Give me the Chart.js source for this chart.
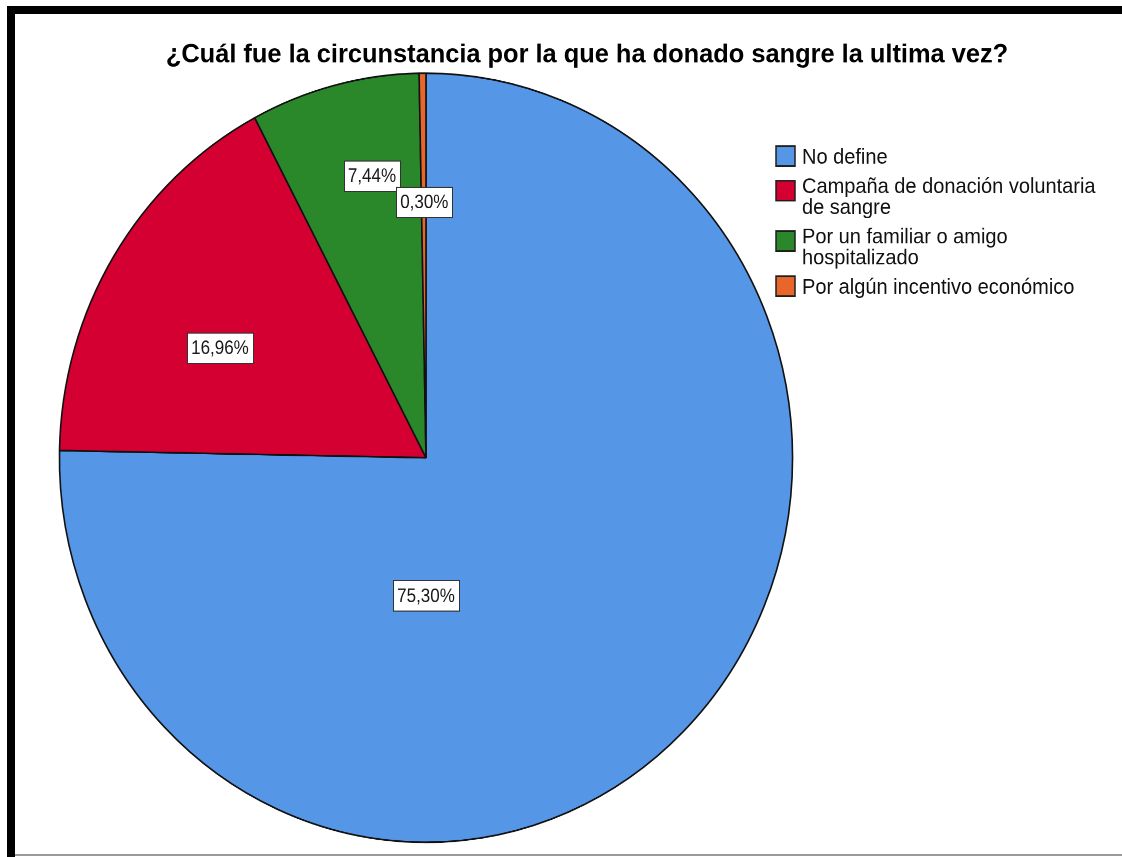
<!DOCTYPE html>
<html lang="es">
<head>
<meta charset="utf-8">
<title>Circunstancia de la última donación de sangre</title>
<script src="https://cdn.jsdelivr.net/npm/chart.js@4/dist/chart.umd.min.js"></script>
<style>
  html, body { margin: 0; padding: 0; background: #fff; }
  body { width: 1122px; height: 857px; position: relative; overflow: hidden; }
  /* the chart is laid out at 1122x817 and stretched a little vertically */
  #stage { position: absolute; left: 0; top: 0; width: 1122px; height: 817px;
           transform-origin: 0 0; transform: scaleY(1.049); }
  .rule { position: absolute; }
  #ruleTop { left: 7px; top: 6px; width: 1115px; height: 8px; background: #000; }
  #ruleLeft { left: 7px; top: 6px; width: 8px; height: 851px; background: #000; }
  #ruleBottom { left: 15px; top: 854px; width: 1107px; height: 2px; background: #9a9a9a; }
</style>
</head>
<body>
<div id="stage"><canvas id="pie" width="1122" height="817"></canvas></div>
<div class="rule" id="ruleTop"></div>
<div class="rule" id="ruleLeft"></div>
<div class="rule" id="ruleBottom"></div>
<script>
// ---- data ----
const chartTitle = '¿Cuál fue la circunstancia por la que ha donado sangre la ultima vez?';
const categories = [
  'No define',
  'Campaña de donación voluntaria de sangre',
  'Por un familiar o amigo hospitalizado',
  'Por algún incentivo económico'
];
const percentages = [75.30, 16.96, 7.44, 0.30];

// ---- styling ----
const sliceColors = ['#5596E6', '#D40032', '#2A882A', '#E8662C'];
const FONT = '"Liberation Sans", Arial, Helvetica, sans-serif';
// where each percentage tag sits in its slice: [share of the slice sweep, share of the radius]
const tagPlacement = [[0.664, 0.359], [0.425, 0.631], [0.616, 0.748], [0.63, 0.666]];

function formatPct(v) {
  return v.toFixed(2).replace('.', ',') + '%';
}

function wrapText(ctx, text, maxWidth) {
  const words = text.split(' ');
  const lines = [];
  let line = '';
  for (const w of words) {
    const probe = line ? line + ' ' + w : w;
    if (line && ctx.measureText(probe).width > maxWidth) {
      lines.push(line);
      line = w;
    } else {
      line = probe;
    }
  }
  if (line) lines.push(line);
  return lines;
}

// Legend drawn as a layout box on the right, so it reserves room beside the pie
const sideLegend = {
  id: 'sideLegend',
  beforeInit(chart) {
    const box = {
      position: 'right',
      weight: 10,
      fullSize: false,
      options: {},
      left: 0, top: 0, right: 0, bottom: 0, width: 0, height: 0,
      isHorizontal() { return false; },
      update(maxWidth, maxHeight) { this.width = 322; this.height = maxHeight; },
      draw() {
        const ctx = chart.ctx;
        const ds = chart.data.datasets[0];
        const lineH = 20, gap = 8, sw = 19;
        let y = this.top + 81.3;
        ctx.save();
        ctx.font = '20px ' + FONT;
        ctx.textBaseline = 'middle';
        ctx.textAlign = 'left';
        chart.data.labels.forEach((label, i) => {
          const lines = wrapText(ctx, label, 305);
          const sy = y + (lines.length - 1) * lineH / 4 - 1.5;
          const sx = this.left - 24;
          ctx.fillStyle = ds.backgroundColor[i];
          ctx.fillRect(sx, sy - sw / 2, sw, sw);
          ctx.strokeStyle = '#1e1e1e';
          ctx.lineWidth = 1.5;
          ctx.strokeRect(sx, sy - sw / 2, sw, sw);
          ctx.fillStyle = '#111';
          lines.forEach((ln, k) => ctx.fillText(ln, this.left + 2, y + k * lineH));
          y += lines.length * lineH + gap;
        });
        ctx.restore();
      }
    };
    Chart.layouts.addBox(chart, box);
  }
};

// White boxed percentage tags inside the slices
const percentTags = {
  id: 'percentTags',
  afterDatasetsDraw(chart) {
    const meta = chart.getDatasetMeta(0);
    const values = chart.data.datasets[0].data;
    const ctx = chart.ctx;
    ctx.save();
    ctx.font = '17px ' + FONT;
    ctx.textAlign = 'center';
    ctx.textBaseline = 'middle';
    meta.data.forEach((arc, i) => {
      const p = arc.getProps(['x', 'y', 'startAngle', 'endAngle', 'outerRadius'], true);
      const [fa, fr] = tagPlacement[i];
      const a = p.startAngle + fa * (p.endAngle - p.startAngle);
      const cx = p.x + Math.cos(a) * fr * p.outerRadius;
      const cy = p.y + Math.sin(a) * fr * p.outerRadius;
      const text = formatPct(values[i]);
      const w = Math.round(ctx.measureText(text).width + 8);
      const h = 29;
      const bx = Math.round(cx - w / 2) + 0.5, by = Math.round(cy - h / 2) + 0.5;
      ctx.fillStyle = '#fff';
      ctx.fillRect(bx, by, w, h);
      ctx.strokeStyle = '#333';
      ctx.lineWidth = 1;
      ctx.strokeRect(bx, by, w, h);
      ctx.fillStyle = '#1a1a1a';
      ctx.save();
      ctx.translate(cx, cy + 1);
      ctx.scale(1, 1.1);
      ctx.fillText(text, 0, 0);
      ctx.restore();
    });
    ctx.restore();
  }
};

new Chart(document.getElementById('pie'), {
  type: 'pie',
  data: {
    labels: categories,
    datasets: [{
      data: percentages,
      backgroundColor: sliceColors,
      borderColor: '#111',
      borderWidth: 1.6,
      hoverOffset: 0,
      hoverBorderWidth: 1.6
    }]
  },
  options: {
    responsive: false,
    animation: false,
    devicePixelRatio: 2,
    layout: { padding: { left: 52, right: 0, top: 0, bottom: 13.3 } },
    plugins: {
      legend: { display: false },
      tooltip: { enabled: false },
      title: {
        display: true,
        text: chartTitle,
        color: '#000',
        font: { family: FONT, size: 25.4, weight: 'bold', lineHeight: 1.2 },
        padding: { top: 37.2, bottom: 1.3 }
      }
    }
  },
  plugins: [sideLegend, percentTags]
});
</script>
</body>
</html>
